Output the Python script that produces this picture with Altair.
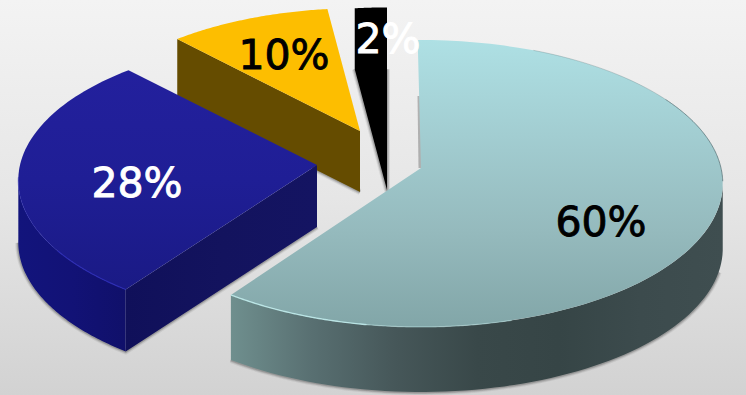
import math
import altair as alt
import pandas as pd

# Series of the exploded pie
LABELS = ["60%", "28%", "10%", "2%"]
SHARES = [60, 28, 10, 2]
LABEL_COLORS = ["#000000", "#ffffff", "#000000", "#ffffff"]

W, H = 746, 395
PERSPECTIVE = 0.108
RX, RY = 300.0, 141.8

# Exploded placement of each wedge: hub, size, turn, thickness
HUBS = [(421, 168), (317, 165), (360, 131), (387, 129)]
SIZES = [1.0, 0.99, 0.96, 0.95]
TURNS = [-0.7, 0.0, 0.0, 0.0]
THICK = [65, 62, 61, 61]
LABEL_SPOTS = [(601, 224), (137, 185), (284, 57), (388, 41)]


def spans():
    start = 0.0
    out = []
    for s in SHARES:
        out.append((start, start + s * 3.6))
        start += s * 3.6
    return out


def rim(i, a, b, drop=0.0, steps=70):
    """Projected rim of wedge i between angles a and b (clockwise from far side)."""
    hx, hy = HUBS[i]
    pts = []
    for k in range(steps + 1):
        t = math.radians(a + (b - a) * k / steps + TURNS[i])
        d = 1 + PERSPECTIVE * math.cos(t)
        pts.append((hx + SIZES[i] * RX * math.sin(t) / d,
                    hy + drop - SIZES[i] * RY * math.cos(t) / d))
    return pts


def hub(i, drop=0.0):
    return [(HUBS[i][0], HUBS[i][1] + drop)]


def grad(direction, *stops):
    n = len(stops) - 1
    x2, y2 = (1, 0) if direction == "h" else (0, 1)
    return alt.Gradient(
        gradient="linear", x1=0, y1=0, x2=x2, y2=y2,
        stops=[alt.GradientStop(offset=k / n, color=c) for k, c in enumerate(stops)],
    )


X = alt.X("x:Q", scale=alt.Scale(domain=[0, W]), axis=None)
Y = alt.Y("y:Q", scale=alt.Scale(domain=[H, 0]), axis=None)


def shape(points, fill, close=True):
    pts = list(points) + ([points[0]] if close else [])
    df = pd.DataFrame(pts, columns=["x", "y"]).assign(n=range(len(pts)))
    return alt.Chart(df).mark_line(fill=fill, strokeWidth=0, interpolate="linear").encode(
        x=X, y=Y, order="n:Q"
    )


def edge(points, color, width, opacity=1.0):
    df = pd.DataFrame(points, columns=["x", "y"]).assign(n=range(len(points)))
    return alt.Chart(df).mark_line(
        color=color, strokeWidth=width, opacity=opacity, strokeJoin="round", strokeCap="butt"
    ).encode(x=X, y=Y, order="n:Q")


def halo(points):
    return [
        edge(points, "#444444", 6, 0.10),
        edge(points, "#444444", 4, 0.16),
        edge(points, "#444444", 2.4, 0.24),
    ]


S = spans()
layers = []

# Backdrop
layers.append(
    alt.Chart(pd.DataFrame({"x": [0], "x2": [W], "y": [0], "y2": [H]}))
    .mark_rect(fill=grad("v", "#f3f3f3", "#e6e6e6", "#d2d2d2"))
    .encode(x=X, x2="x2:Q", y=Y, y2="y2:Q")
)

# 2% wedge: top and cut face are both solid black, so one outline covers them
a, b = S[3]
top = rim(3, a, b)
d = THICK[3]
low_left = (top[0][0], top[0][1] + d)
layers += halo([low_left] + hub(3, d) + [(top[-1][0], low_left[1])])
layers.append(shape(top + hub(3, d) + [low_left], "#000000"))

# 10% wedge
a, b = S[2]
top = rim(2, a, b)
d = THICK[2]
layers += halo(hub(2, d) + [(top[0][0], top[0][1] + d)])
layers.append(shape([top[0]] + hub(2) + hub(2, d) + [(top[0][0], top[0][1] + d)], "#654c00"))
layers.append(shape(top + hub(2), "#fdbe00"))

# 28% wedge
a, b = S[1]
top = rim(1, a, b)
d = THICK[1]
outer_top = rim(1, a, 265)
outer_bottom = rim(1, a, 265, d)
layers += halo(hub(1, d) + outer_bottom[:-2])
layers.append(shape(outer_top + outer_bottom[::-1], grad("h", "#12147c", "#121276", "#10106a")))
layers.append(shape(hub(1) + hub(1, d) + [outer_bottom[0], outer_top[0]], grad("h", "#10105a", "#13135e", "#141462")))
layers.append(shape(top + hub(1), grad("v", "#23209d", "#1f1e95", "#1a1a85")))
layers.append(edge(rim(1, a, 235), "#2a2ab4", 1.2, 0.9))
layers.append(edge(rim(1, 235, 265), "#2a2ab4", 1.0, 0.5))

# 60% wedge
a, b = S[0]
top = rim(0, a, b)
d = THICK[0]
outer_top = rim(0, 96, b)
outer_bottom = rim(0, 96, b, d)
layers += halo(outer_bottom[6:])
layers.append(edge([(419, 96), (420, 168)], "#444444", 3, 0.35))
layers.append(shape(
    outer_top + outer_bottom[::-1],
    grad("h", "#6f8f8e", "#586f71", "#465759", "#394849", "#364546", "#3c4b4d", "#3f4e50"),
))
layers.append(shape(top + hub(0), grad("v", "#aee0e4", "#a2cdd1", "#95babd", "#82a6a8")))
layers.append(edge(rim(0, 190, b), "#c2eeee", 1.4, 0.85))
layers.append(edge(rim(0, 165, 190), "#c2eeee", 1.2, 0.45))
layers.append(edge(rim(0, 25, 60), "#4d6a6e", 0.8, 0.35))
layers.append(edge(rim(0, 60, 96), "#4d6a6e", 1.0, 0.7))

# Percentage labels
labels = pd.DataFrame({
    "label": LABELS,
    "color": LABEL_COLORS,
    "x": [p[0] for p in LABEL_SPOTS],
    "y": [p[1] for p in LABEL_SPOTS],
})
layers.append(
    alt.Chart(labels)
    .mark_text(font="DejaVu Sans", fontSize=41, align="center", baseline="middle", strokeWidth=0.9)
    .encode(
        x=X, y=Y, text="label:N",
        fill=alt.Color("color:N", scale=None),
        stroke=alt.Color("color:N", scale=None),
    )
)

chart = (
    alt.layer(*layers)
    .properties(width=W, height=H, padding=0, autosize=alt.AutoSizeParams(type="none"))
    .configure_view(strokeWidth=0)
)
chart.save("out.html", embed_options={"renderer": "svg", "actions": False})
